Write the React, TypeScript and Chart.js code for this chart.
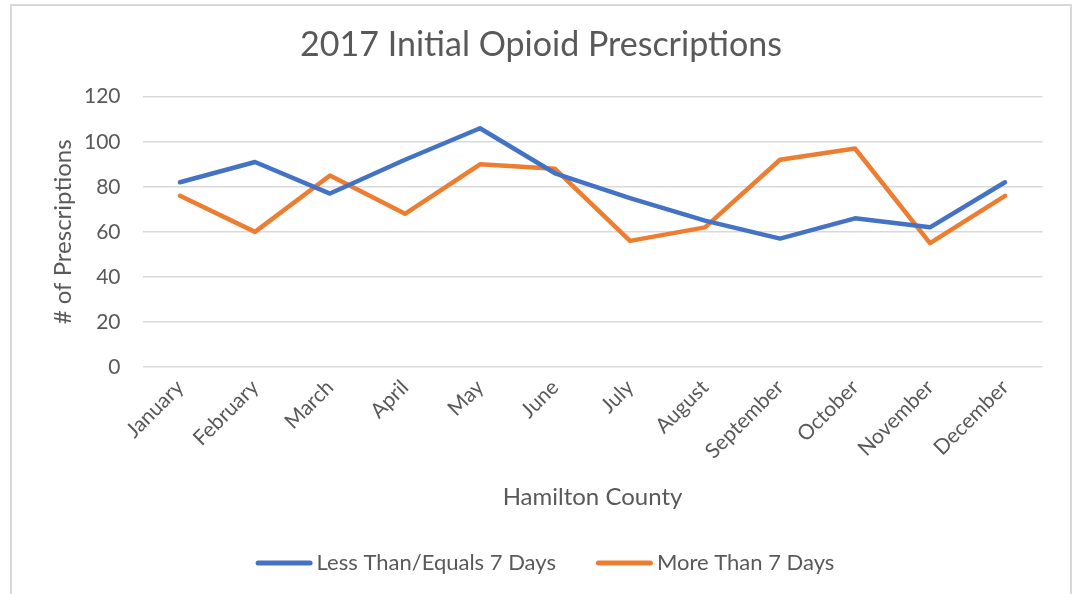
import React, { useEffect, useRef } from "react";
import { Chart, registerables } from "chart.js";

Chart.register(...registerables);

const months = ["January", "February", "March", "April", "May", "June", "July", "August", "September", "October", "November", "December"];
const lessThanOrEqual7 = [82, 91, 77, 92, 106, 86, 75, 65, 57, 66, 62, 82];
const moreThan7 = [76, 60, 85, 68, 90, 88, 56, 62, 92, 97, 55, 76];
const seriesNames = ["Less Than/Equals 7 Days", "More Than 7 Days"];
const seriesColors = ["#4472C4", "#ED7D31"];
const yTicks = [0, 20, 40, 60, 80, 100, 120];
const chartTitle = "2017 Initial Opioid Prescriptions";
const xTitle = "Hamilton County";
const yTitle = "# of Prescriptions";

const FONT = "Lato";
const TEXT = "#595959";

const W = 1078;
const H = 594;
const PLOT_TOP = 96.7;
const PLOT_RIGHT = 1042.5;
const PLOT_LEFT = 142.5;
const PLOT_BOTTOM = 367;
const BOTTOM_PAD = 70;
const AXIS_TITLE_SIZE = 24;

const framePlugin = {
  id: "frame",
  beforeDraw(chart: any) {
    const ctx = chart.ctx;
    ctx.save();
    ctx.fillStyle = "#ffffff";
    ctx.fillRect(0, 0, W, H);
    ctx.strokeStyle = "#d9d9d9";
    ctx.lineWidth = 2;
    ctx.strokeRect(11, 5, 1060, 620);
    ctx.restore();
  },
};

const titlePlugin = {
  id: "customTitle",
  afterDraw(chart: any) {
    const ctx = chart.ctx;
    ctx.save();
    ctx.font = `34px ${FONT}`;
    ctx.fillStyle = TEXT;
    ctx.textAlign = "center";
    ctx.textBaseline = "middle";
    ctx.fillText(chartTitle, 541, 45);
    ctx.restore();
  },
};

const legendPlugin = {
  id: "customLegend",
  afterDraw(chart: any) {
    const ctx = chart.ctx;
    ctx.save();
    ctx.font = `22px ${FONT}`;
    const lineW = 57;
    const gap = 4;
    const itemGap = 40;
    const widths = seriesNames.map((n) => ctx.measureText(n).width);
    let total = 0;
    widths.forEach((w, i) => {
      total += lineW + gap + w + (i < widths.length - 1 ? itemGap : 0);
    });
    let x = 545 - total / 2;
    const y = 563;
    seriesNames.forEach((n, i) => {
      ctx.strokeStyle = seriesColors[i];
      ctx.lineWidth = 5;
      ctx.lineCap = "round";
      ctx.beginPath();
      ctx.moveTo(x + 2.5, y);
      ctx.lineTo(x + lineW - 2.5, y);
      ctx.stroke();
      ctx.fillStyle = TEXT;
      ctx.textBaseline = "middle";
      ctx.textAlign = "left";
      ctx.fillText(n, x + lineW + gap, y);
      x += lineW + gap + widths[i] + itemGap;
    });
    ctx.restore();
  },
};

export default function App() {
  const ref = useRef<HTMLCanvasElement | null>(null);
  useEffect(() => {
    document.body.style.margin = "0";
    const canvas = ref.current!;
    const mkDs = (i: number, data: number[]) => ({
      label: seriesNames[i],
      data,
      borderColor: seriesColors[i],
      backgroundColor: seriesColors[i],
      borderWidth: 4.5,
      pointRadius: 0,
      tension: 0,
      borderJoinStyle: "round" as const,
      borderCapStyle: "round" as const,
    });
    const lh = AXIS_TITLE_SIZE * 1.2;
    const chart = new Chart(canvas, {
      type: "line",
      data: {
        labels: months,
        datasets: [mkDs(0, lessThanOrEqual7), mkDs(1, moreThan7)],
      },
      options: {
        responsive: false,
        animation: false,
        layout: { padding: { left: 0, right: W - PLOT_RIGHT, top: PLOT_TOP, bottom: BOTTOM_PAD } },
        plugins: {
          legend: { display: false },
          tooltip: { enabled: false },
          title: { display: false },
        },
        scales: {
          x: {
            offset: true,
            grid: { display: false, drawTicks: false },
            border: { display: false },
            ticks: {
              autoSkip: false,
              maxRotation: 45,
              minRotation: 45,
              padding: 8,
              color: TEXT,
              font: { family: FONT, size: 21 },
            },
            title: {
              display: true,
              text: xTitle,
              color: TEXT,
              font: { family: FONT, size: AXIS_TITLE_SIZE },
              padding: { top: 0, bottom: H - BOTTOM_PAD - 497 - lh / 2 },
            },
            afterFit(scale: any) {
              scale.height = H - BOTTOM_PAD - PLOT_BOTTOM;
            },
          },
          y: {
            min: 0,
            max: 120,
            afterBuildTicks(scale: any) {
              scale.ticks = yTicks.map((v) => ({ value: v }));
            },
            grid: { color: "#d9d9d9", lineWidth: 1.5, drawTicks: false },
            border: { display: false },
            ticks: {
              padding: 22,
              color: TEXT,
              font: { family: FONT, size: 21 },
            },
            title: {
              display: true,
              text: yTitle,
              color: TEXT,
              font: { family: FONT, size: AXIS_TITLE_SIZE },
              padding: { top: 63 - lh / 2, bottom: 0 },
            },
            afterFit(scale: any) {
              scale.width = PLOT_LEFT;
            },
          },
        },
      },
      plugins: [framePlugin, titlePlugin, legendPlugin],
    });
    return () => chart.destroy();
  }, []);
  return (
    <div style={{ width: W, height: H }}>
      <canvas ref={ref} width={W} height={H} style={{ display: "block" }} />
    </div>
  );
}
